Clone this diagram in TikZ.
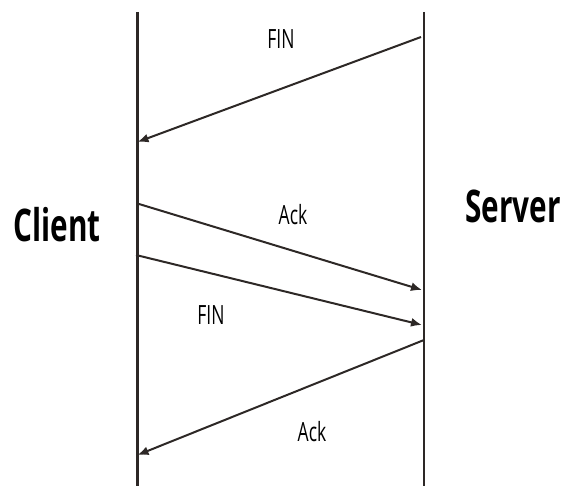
\documentclass[tikz,border=0pt]{standalone}
\usepackage{fontspec}
\setmainfont{Open Sans}[FakeStretch=0.66]
\usetikzlibrary{arrows.meta}
\definecolor{ink}{HTML}{2D2826}
\tikzset{
  lifeline/.style={draw=ink, line width=2.2pt},
  msg/.style={draw=ink, line width=2pt, -{Latex[length=11pt,width=9pt]}},
  msglabel/.style={font=\fontsize{26.5}{30}\selectfont, text=black, inner sep=0pt},
  party/.style={font=\fontsize{45}{48}\selectfont\bfseries, text=black, inner sep=0pt}
}
\begin{document}
\begin{tikzpicture}[x=1pt,y=-1pt]
  \useasboundingbox (0,0) rectangle (564,486);
  % lifelines
  \coordinate (ctop) at (137.5,12);
  \coordinate (cbot) at (137.5,486);
  \coordinate (stop) at (424,12);
  \coordinate (sbot) at (424,486);
  \draw[lifeline] (ctop) -- (cbot);
  \draw[lifeline] (stop) -- (sbot);
  % party names
  \node[party] (client) at (57,225) {Client};
  \node[party] (server) at (513,206) {Server};
  % message end points
  \coordinate (m1s) at (421,37);
  \coordinate (m1e) at (137.5,142);
  \coordinate (m2s) at (139,204);
  \coordinate (m2e) at (422,290);
  \coordinate (m3s) at (136,255);
  \coordinate (m3e) at (422,325);
  \coordinate (m4s) at (424,340);
  \coordinate (m4e) at (137.5,455);
  % messages
  \draw[msg] (m1s) -- (m1e);
  \draw[msg] (m2s) -- (m2e);
  \draw[msg] (m3s) -- (m3e);
  \draw[msg] (m4s) -- (m4e);
  % labels
  \node[msglabel] (l1) at (281,39) {FIN};
  \node[msglabel] (l2) at (293,215) {Ack};
  \node[msglabel] (l3) at (211,315) {FIN};
  \node[msglabel] (l4) at (312,432) {Ack};
\end{tikzpicture}
\end{document}
